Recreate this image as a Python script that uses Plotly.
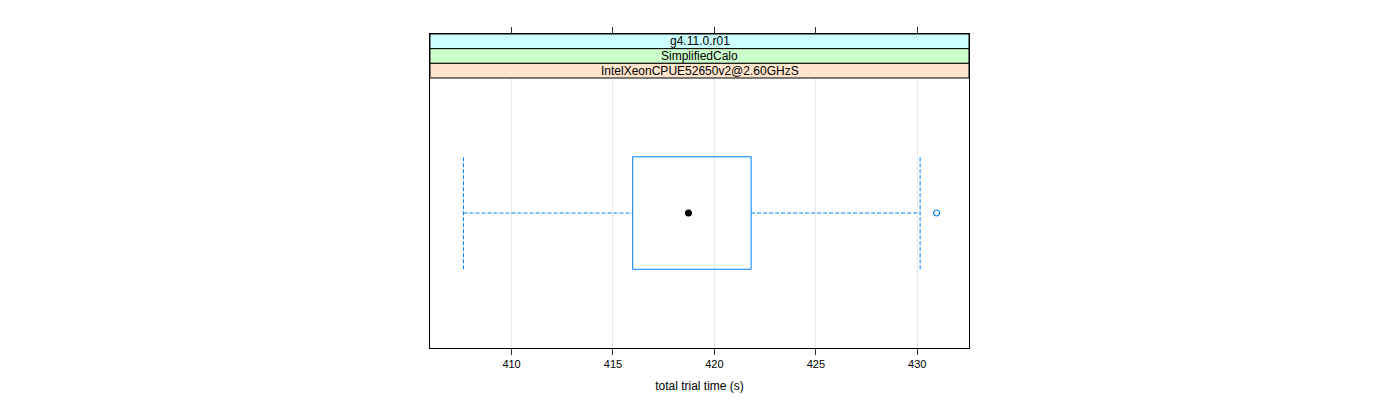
import plotly.graph_objects as go

# strip labels, top to bottom
strip_labels = ["g4.11.0.r01", "SimplifiedCalo", "IntelXeonCPUE52650v2@2.60GHzS"]
strip_colors = ["#ccffff", "#ccffcc", "#ffe5cc"]

# box-and-whisker stats (seconds)
lower_whisker = 407.63
q1 = 415.97
median = 418.72
q3 = 421.81
upper_whisker = 430.14
outliers = [430.95]

tick_vals = [410, 415, 420, 425, 430]
blue = "#0080ff"
wdash = "4px,2px"

fig = go.Figure()
# box
fig.add_trace(go.Scatter(x=[q1, q3, q3, q1, q1], y=[0.75, 0.75, 1.25, 1.25, 0.75],
                         mode="lines", line=dict(color=blue, width=1), hoverinfo="skip"))
# whiskers
fig.add_trace(go.Scatter(x=[lower_whisker, q1], y=[1, 1], mode="lines",
                         line=dict(color=blue, width=1, dash=wdash)))
fig.add_trace(go.Scatter(x=[q3, upper_whisker], y=[1, 1], mode="lines",
                         line=dict(color=blue, width=1, dash=wdash)))
fig.add_trace(go.Scatter(x=[lower_whisker, lower_whisker], y=[0.75, 1.25], mode="lines",
                         line=dict(color=blue, width=1, dash=wdash)))
fig.add_trace(go.Scatter(x=[upper_whisker, upper_whisker], y=[0.75, 1.25], mode="lines",
                         line=dict(color=blue, width=1, dash=wdash)))
# median dot
fig.add_trace(go.Scatter(x=[median], y=[1], mode="markers",
                         marker=dict(color="black", size=7)))
# outliers
fig.add_trace(go.Scatter(x=outliers, y=[1] * len(outliers), mode="markers",
                         marker=dict(symbol="circle-open", color=blue, size=6, line=dict(width=1.2))))

plot_h = 400 - 34 - 52
panel_top = 270 / plot_h
strip_h = (1 - panel_top) / 3
shapes = []
annotations = []
for i, (lab, col) in enumerate(zip(strip_labels, strip_colors)):
    y1 = 1 - i * strip_h
    y0 = y1 - strip_h
    shapes.append(dict(type="rect", xref="paper", yref="paper", x0=0, x1=1, y0=y0, y1=y1,
                       fillcolor=col, line=dict(color="black", width=1), layer="above"))
    annotations.append(dict(text=lab, xref="paper", yref="paper", x=0.5, y=(y0 + y1) / 2,
                            xanchor="center", yanchor="middle",
                            showarrow=False, font=dict(size=12, color="black")))

fig.update_layout(
    width=1400, height=400,
    margin=dict(l=422, r=439, t=26, b=60),
    paper_bgcolor="white", plot_bgcolor="white",
    showlegend=False,
    font=dict(family="Liberation Sans, Arial, sans-serif", color="black"),
    shapes=shapes, annotations=annotations,
    xaxis=dict(range=[405.98, 432.55], tickvals=tick_vals, ticks="outside", ticklen=6,
               tickcolor="#333333", showline=True, linecolor="black", linewidth=1, mirror="ticks",
               showgrid=True, gridcolor="#e8e8e8", zeroline=False, tickfont=dict(size=11),
               title=dict(text="total trial time (s)", font=dict(size=12), standoff=12)),
    yaxis=dict(range=[0.4, 0.4 + 1.2 * plot_h / 270], showticklabels=False, ticks="",
               showline=True, linecolor="black", linewidth=1, mirror=True,
               showgrid=False, zeroline=False),
)

fig.write_html("out.html")
